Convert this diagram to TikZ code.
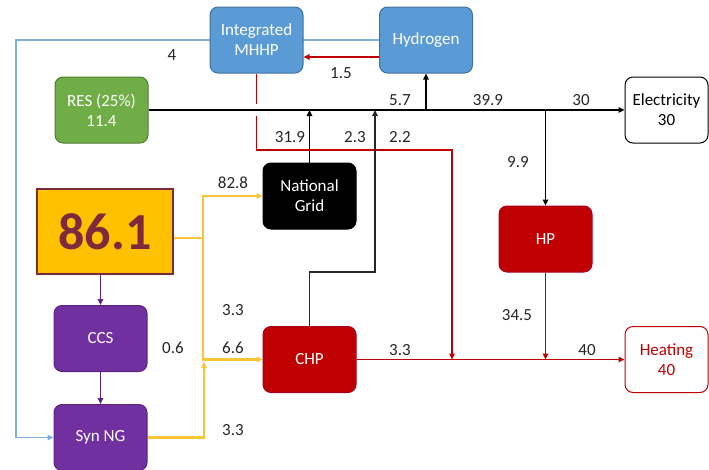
\documentclass[tikz,border=0pt]{standalone}
\usepackage{fontspec}
\setmainfont{Carlito}
\usetikzlibrary{arrows.meta}
\pgfdeclarelayer{bg}
\pgfsetlayers{bg,main}

\definecolor{hblue}{HTML}{5B9BD5}
\definecolor{hblueD}{HTML}{41719C}
\definecolor{lblue}{HTML}{7EB0DD}
\definecolor{resgreen}{HTML}{70AD47}
\definecolor{resgreenD}{HTML}{507E32}
\definecolor{fuel}{HTML}{FFC000}
\definecolor{fuelline}{HTML}{F9C535}
\definecolor{maroon}{HTML}{7F2A3C}
\definecolor{heat}{HTML}{C00000}
\definecolor{heatD}{HTML}{A50021}
\definecolor{ccs}{HTML}{7030A0}
\definecolor{ccsD}{HTML}{5B2483}
\definecolor{lbl}{HTML}{262626}

\begin{document}
\begin{tikzpicture}[x=1pt,y=-1pt,
  font=\fontsize{17}{20}\selectfont,
  unit/.style={rounded corners=8pt, minimum width=93pt, minimum height=66pt,
    draw, line width=1pt, text=white, align=center, inner sep=0pt},
  tip/.style={-{Triangle[length=6pt,width=5.5pt]}},
  flow/.style={line width=1.8pt},
  fuelflow/.style={line width=2.2pt, fuelline},
  lab/.style={text=lbl, inner sep=0pt}]

\useasboundingbox (0,0) rectangle (709,469);

% units
\node[unit, fill=hblue, draw=hblueD] (mhhp) at (256.5,40) {Integrated\\MHHP};
\node[unit, fill=hblue, draw=hblueD] (h2) at (426,40) {Hydrogen};
\node[unit, fill=resgreen, draw=resgreenD] (res) at (101.5,110) {RES (25\%)\\11.4};
\node[unit, fill=white, draw=black, text=black, minimum width=83pt] (elec) at (666.5,110) {Electricity\\30};
\node[draw=maroon, fill=fuel, minimum width=136pt, minimum height=85pt,
  line width=1.2pt, text=maroon, inner sep=0pt,
  font=\bfseries\fontsize{52}{60}\selectfont] (src) at (105,231.5) {86.1};
\node[unit, fill=black, draw=black] (grid) at (309.5,196) {National\\Grid};
\node[unit, fill=heat, draw=heatD] (hp) at (545.5,239) {HP};
\node[unit, fill=ccs, draw=ccsD] (ccs) at (100.5,338.5) {CCS};
\node[unit, fill=heat, draw=heatD] (chp) at (309.5,359.5) {CHP};
\node[unit, fill=ccs, draw=ccsD] (syn) at (100.5,437.5) {Syn NG};
\node[unit, fill=white, draw=heat, text=heat, minimum width=83pt] (heatn) at (666.5,359.5) {Heating\\40};

% helper points
\coordinate (y57) at (0,57);
\coordinate (bl) at (16,40);
\coordinate (rt) at (452,150);
\coordinate (chpbend) at (375,272);
\coordinate (ysplit) at (203,238);
\coordinate (yjoin) at (204,362);

\begin{pgfonlayer}{bg}
  % hydrogen loop back to the synthetic gas unit
  \draw[flow, tip, lblue] (h2.west) -- (bl) |- (syn.west);
  % heat recovered from the integrated unit
  \draw[flow, tip, heat] (mhhp.south) |- (rt) -- (rt |- chp.east);
  \draw[white, line width=4pt] (256.5,104) -- (256.5,116);
  % electricity bus
  \draw[flow, tip, black] (res.east) -- (elec.west);
  \draw[flow, tip, black] (h2.south |- res.east) -- (h2.south);
  \draw[flow, tip, black] (hp.north |- res.east) -- (hp.north);
  \draw[flow, tip, black] (grid.north) -- (grid.north |- res.east);
  \draw[flow, tip, black!85] (chp.north) |- (chpbend) -- (chpbend |- res.east);
  % hydrogen to the integrated unit
  \draw[flow, tip, heat] (h2.west |- y57) -- (mhhp.east |- y57);
  % fuel distribution
  \draw[fuelflow] (src.east |- ysplit) -- (ysplit);
  \draw[fuelflow, tip] (ysplit) |- (grid.west);
  \draw[fuelflow, tip] (ysplit) |- (chp.west);
  \draw[fuelflow, tip] (syn.east) -| (yjoin);
  % carbon capture chain
  \draw[flow, tip, ccsD] (ccs.north |- src.south) -- (ccs.north);
  \draw[flow, tip, ccsD] (ccs.south) -- (syn.north);
  % heat network
  \draw[flow, tip, heat] (chp.east) -- (heatn.west);
  \draw[flow, tip, heat] (hp.south) -- (hp.south |- chp.east);
\end{pgfonlayer}

% flow values
\node[lab] (l4) at (172,55) {4};
\node[lab] (l15) at (341,73) {1.5};
\node[lab] (l57) at (400,100) {5.7};
\node[lab] (l399) at (488,100) {39.9};
\node[lab] (l30) at (581,100) {30};
\node[lab] (l319) at (290,137) {31.9};
\node[lab] (l23) at (355,137) {2.3};
\node[lab] (l22) at (400,137) {2.2};
\node[lab] (l99) at (518,162) {9.9};
\node[lab] (l828) at (233,183) {82.8};
\node[lab] (l33a) at (233,310) {3.3};
\node[lab] (l345) at (517,315) {34.5};
\node[lab] (l06) at (173,348) {0.6};
\node[lab] (l66) at (233,348) {6.6};
\node[lab] (l33b) at (400,350) {3.3};
\node[lab] (l40) at (587,350) {40};
\node[lab] (l33c) at (233,430) {3.3};

\end{tikzpicture}
\end{document}
